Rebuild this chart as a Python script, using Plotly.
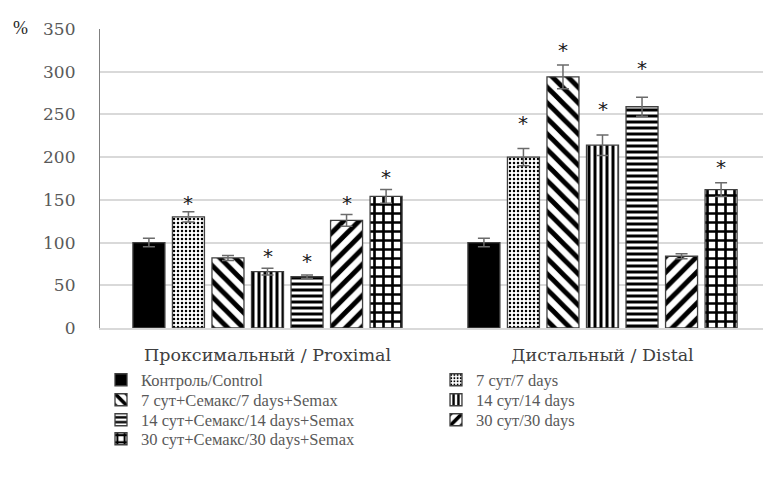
import plotly.graph_objects as go

# ---- data ----
groups = ["Проксимальный / Proximal", "Дистальный / Distal"]
series_names = [
    "Контроль/Control",
    "7 сут/7 days",
    "7 сут+Семакс/7 days+Semax",
    "14 сут/14 days",
    "14 сут+Семакс/14 days+Semax",
    "30 сут/30 days",
    "30 сут+Семакс/30 days+Semax",
]
control = [100, 100]
d7 = [130, 200]
d7_semax = [82, 294]
d14 = [66, 214]
d14_semax = [60, 259]
d30 = [126, 84]
d30_semax = [154, 162]

control_err = [5, 5]
d7_err = [6, 10]
d7_semax_err = [3, 14]
d14_err = [4, 12]
d14_semax_err = [2, 11]
d30_err = [7, 3]
d30_semax_err = [8, 8]

# heights (in %) of the significance asterisks, None = not significant
control_star = [None, None]
d7_star = [151, 245]
d7_semax_star = [None, 330]
d14_star = [89, 261]
d14_semax_star = [83, 309]
d30_star = [151, None]
d30_semax_star = [182, 193]

y_ticks = [0, 50, 100, 150, 200, 250, 300, 350]

values = [control, d7, d7_semax, d14, d14_semax, d30, d30_semax]
errors = [control_err, d7_err, d7_semax_err, d14_err, d14_semax_err, d30_err, d30_semax_err]
stars = [control_star, d7_star, d7_semax_star, d14_star, d14_semax_star, d30_star, d30_semax_star]

# ---- styles / layout ----
W, H = 763, 479
ML, MR, MT, MB = 100, 0, 29, 151
PW, PH = W - ML - MR, H - MT - MB

def pat(shape, size, solidity):
    return dict(shape=shape, size=size, solidity=solidity, fgcolor="black",
                bgcolor="white", fgopacity=1)

patterns = [
    dict(shape=""),
    pat(".", 4, 0.3),
    pat("\\", 11, 0.45),
    pat("|", 6, 0.5),
    pat("-", 6, 0.5),
    pat("/", 11, 0.45),
    pat("+", 9, 0.5),
]
fill_colors = ["black"] + ["white"] * 6

slot = 0.118
bar_w = 0.0955
gx = list(range(len(groups)))

# legend grid (pixels): item left edges of the two columns, row centres
leg_cols = [101, 436]
leg_rows = [380, 400, 420, 439]

fig = go.Figure()
legend_layouts = {}
for i, name in enumerate(series_names):
    off = (i - 3) * slot
    lname = "legend" if i == 0 else f"legend{i + 1}"
    fig.add_trace(go.Bar(
        x=gx, y=values[i], name=name, legend=lname,
        width=bar_w, offset=off - bar_w / 2,
        marker=dict(color=fill_colors[i], pattern=patterns[i],
                    line=dict(color="#404040", width=1.3)),
        error_y=dict(type="data", array=errors[i], color="#6b6b6b",
                     thickness=1.5, width=6),
    ))
    col, row = i % 2, i // 2
    legend_layouts[lname] = dict(
        x=(leg_cols[col] - ML) / PW, y=1 - (leg_rows[row] - MT) / PH,
        xanchor="left", yanchor="middle", orientation="h",
        font=dict(family="Liberation Serif", size=16.5, color="#595959"),
        itemwidth=30, bgcolor="rgba(0,0,0,0)", borderwidth=0,
    )

annotations = []
for i in range(len(series_names)):
    off = (i - 3) * slot
    for g, s in zip(gx, stars[i]):
        if s is None:
            continue
        annotations.append(dict(
            x=g + off, y=s, xref="x", yref="y", text="*", showarrow=False,
            xanchor="center", yanchor="middle", yshift=-4,
            font=dict(family="DejaVu Sans", size=20, color="#1a1a1a"),
        ))
annotations.append(dict(
    text="%", xref="paper", yref="paper", x=(20 - ML) / PW, y=1 - (28 - MT) / PH,
    xanchor="center", yanchor="middle", showarrow=False,
    font=dict(family="Liberation Serif", size=18, color="#262626"),
))

fig.update_layout(
    width=W, height=H,
    margin=dict(l=ML, r=MR, t=MT, b=MB),
    plot_bgcolor="white", paper_bgcolor="white",
    barmode="group",
    showlegend=True,
    xaxis=dict(
        range=[-0.5, -0.5 + PW / 335],
        tickvals=gx, ticktext=groups,
        tickfont=dict(family="DejaVu Serif", size=17.5, color="#404040"),
        showline=True, linecolor="#d9d9d9", linewidth=1.5,
        showgrid=False, zeroline=False, ticks="",
        ticklabelstandoff=10, automargin=False,
    ),
    yaxis=dict(
        range=[0, 350], tickvals=y_ticks,
        tickfont=dict(family="DejaVu Serif", size=17, color="#595959"),
        showgrid=True, gridcolor="#d9d9d9", gridwidth=1.5,
        showline=True, linecolor="#808080", linewidth=1.2,
        zeroline=False, ticks="", ticklabelstandoff=20, automargin=False,
    ),
    annotations=annotations,
    **legend_layouts,
)

fig.write_html("out.html", config={"displayModeBar": False},
               post_script="document.body.style.margin='0px';")
